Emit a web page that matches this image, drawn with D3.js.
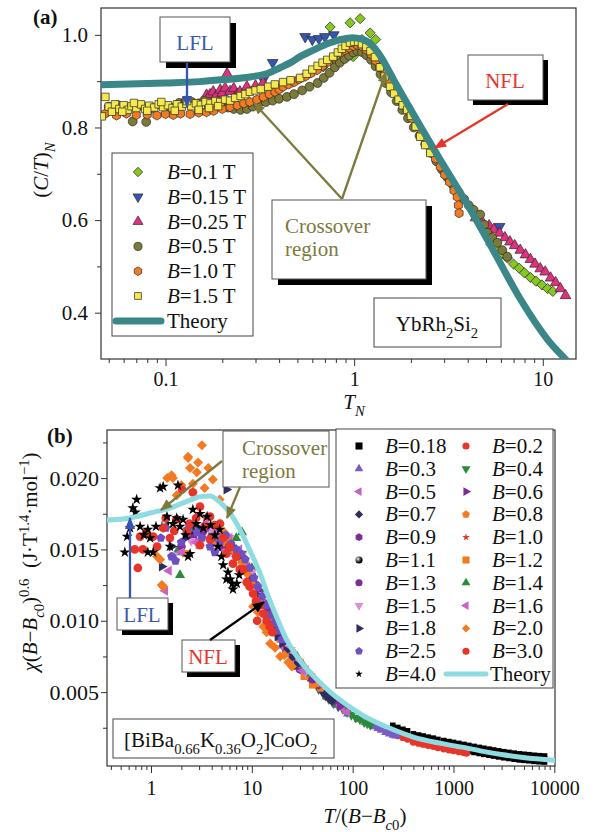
<!DOCTYPE html>
<html><head><meta charset="utf-8">
<script src="https://cdn.jsdelivr.net/npm/d3@7"></script>
<style>body{margin:0;background:#fff}svg{display:block}text{font-family:"Liberation Serif","Times New Roman",serif;fill:#111}</style>
</head><body><svg id="c" width="596" height="832"></svg>
<script>
// ---------------- Panel (a) data: [T_N, (C/T)_N] ----------------
const a01 = [[0.685,0.931],[0.746,1.017],[0.774,0.94],[0.843,0.961],[0.864,0.957],[0.952,1.026],[0.988,0.953],[1.076,1.035],[1.1,0.99],[1.216,1.004],[1.3,0.99],
 [5.3,0.548],[5.7,0.54],[6.1,0.528],[6.5,0.518],[7,0.505],[7.5,0.496],[8,0.486],[8.6,0.476],[9.2,0.468],[9.9,0.46],[10.6,0.452],[11.3,0.446]];
const a015 = [[0.33,0.903],[0.37,0.94],[0.55,0.996],[0.6,0.99],[0.65,0.992],[0.7,0.996],[0.78,1.0],[5.9,0.586]];
const a025 = [[0.165,0.87],[0.172,0.871],[0.179,0.877],[0.185,0.868],[0.195,0.881],[0.2,0.874],[0.207,0.885],[0.212,0.916],[0.22,0.878],[0.23,0.884],[0.24,0.872],[0.248,0.877],[0.27,0.888],[0.3,0.89],[0.329,0.896],
 [4.4,0.605],[4.8,0.595],[5.2,0.588],[5.5,0.58],[5.9,0.572],[6.3,0.562],[6.7,0.553],[7.1,0.545],[7.6,0.535],[8.1,0.525],[8.6,0.515],[9.1,0.505],[9.7,0.495],[10.3,0.488],[11,0.475],[11.7,0.465],[12.4,0.452],[13.2,0.437]];
const a05 = [[0.05,0.845],[0.056,0.848],[0.062,0.84],[0.067,0.813],[0.072,0.846],[0.079,0.812],[0.085,0.842],[0.095,0.848],[0.105,0.845],[0.118,0.853],[0.128,0.858],[0.138,0.855],[0.15,0.852],[0.16,0.858],[0.17,0.848],[0.185,0.845],[0.2,0.845],[0.215,0.843],[0.23,0.84],[0.25,0.838],[0.27,0.84],[0.29,0.845],[0.31,0.85],[0.34,0.855],[0.37,0.858],[0.4,0.862],[0.44,0.866],[0.48,0.872],[0.53,0.88],[0.58,0.888],[0.64,0.896],[0.69,0.907],[0.74,0.918],[0.79,0.93],[0.84,0.94],[0.89,0.948],[0.94,0.955],[0.99,0.962],[1.04,0.965],[1.1,0.963],[1.16,0.956],[1.23,0.946],[1.3,0.932],[1.38,0.915],[1.47,0.896],[1.57,0.876],[1.68,0.857],[1.8,0.838],[1.93,0.82],[2.07,0.8],[2.22,0.782],[2.38,0.764],[2.55,0.745],[2.73,0.727],[2.92,0.709],[3.12,0.692],[3.34,0.676],[3.58,0.66],[3.83,0.645],[4.05,0.632],[4.3,0.622],[4.66,0.612],[4.9,0.59],[5.08,0.573],[5.4,0.562],[5.74,0.551],[6.1,0.535],[6.48,0.521]];
const a10 = [[0.048,0.83],[0.055,0.826],[0.062,0.83],[0.07,0.827],[0.08,0.828],[0.09,0.826],[0.1,0.829],[0.11,0.827],[0.12,0.83],[0.135,0.829],[0.15,0.832],[0.165,0.833],[0.18,0.836],[0.2,0.84],[0.22,0.844],[0.24,0.848],[0.26,0.852],[0.28,0.855],[0.305,0.86],[0.33,0.866],[0.355,0.872],[0.38,0.877],[0.4,0.882],[0.42,0.888],[0.45,0.893],[0.48,0.898],[0.51,0.904],[0.55,0.91],[0.59,0.917],[0.636,0.924],[0.68,0.933],[0.73,0.942],[0.78,0.951],[0.843,0.961],[0.89,0.967],[0.94,0.972],[0.99,0.976],[1.04,0.978],[1.1,0.975],[1.16,0.968],[1.23,0.958],[1.3,0.944],[1.37,0.93],[1.45,0.915],[1.53,0.9],[1.62,0.884],[1.71,0.868],[1.81,0.852],[1.91,0.836],[2.02,0.82],[2.14,0.804],[2.27,0.788],[2.41,0.77],[2.55,0.751],[2.7,0.733],[2.86,0.715],[3.02,0.698],[3.2,0.682],[3.38,0.664],[3.52,0.65],[3.57,0.632],[3.6,0.615]];
const a15 = [[0.046,0.824],[0.048,0.866],[0.05,0.845],[0.052,0.834],[0.054,0.85],[0.057,0.84],[0.06,0.848],[0.063,0.838],[0.066,0.846],[0.07,0.842],[0.074,0.85],[0.078,0.84],[0.082,0.847],[0.087,0.843],[0.092,0.85],[0.097,0.844],[0.103,0.848],[0.109,0.842],[0.115,0.85],[0.122,0.845],[0.129,0.851],[0.137,0.846],[0.145,0.852],[0.154,0.849],[0.163,0.855],[0.173,0.852],[0.184,0.857],[0.195,0.855],[0.207,0.86],[0.22,0.858],[0.234,0.864],[0.25,0.868],[0.265,0.872],[0.28,0.877],[0.3,0.88],[0.32,0.883],[0.35,0.888],[0.38,0.893],[0.42,0.898],[0.46,0.902],[0.517,0.907],[0.56,0.916],[0.6,0.925],[0.64,0.933],[0.68,0.94],[0.72,0.946],[0.774,0.953],[0.82,0.962],[0.86,0.97],[0.9,0.976],[0.95,0.983],[1.0,0.985],[1.05,0.985],[1.1,0.98],[1.16,0.974],[1.22,0.965],[1.29,0.952],[1.37,0.93],[1.45,0.91],[1.55,0.888],[1.63,0.873],[1.72,0.86],[1.81,0.848],[1.91,0.838],[2.0,0.825],[2.12,0.802],[2.24,0.78],[2.38,0.762],[2.53,0.745],
 [0.059,0.834],[0.068,0.853],[0.08,0.836],[0.095,0.855],[0.112,0.836],[0.13,0.857],[0.15,0.838],[0.17,0.842],[0.19,0.846]];
const aTheoryT = [0.0455,0.1,0.152,0.2,0.281,0.35,0.405,0.46,0.517,0.6,0.746,0.85,0.976,1.1,1.216,1.374,1.61,1.91,2.24,2.86,3.97,5.46,7.59,10.6,13.5,15];
const aTheoryV = [0.892,0.896,0.899,0.903,0.909,0.917,0.929,0.94,0.953,0.966,0.983,0.99,0.994,0.991,0.981,0.955,0.905,0.852,0.803,0.73,0.635,0.535,0.43,0.342,0.295,0.275];
const aFields = ["0.1","0.15","0.25","0.5","1.0","1.5"];
const aYTicks = [0.4,0.6,0.8,1.0], aYLabels = ["0.4","0.6","0.8","1.0"], aYMinor = [0.5,0.7,0.9];
const aXTicks = [0.1,1,10], aXLabels = ["0.1","1","10"];
const aXMinor = [0.05,0.06,0.07,0.08,0.09,0.2,0.3,0.4,0.5,0.6,0.7,0.8,0.9,2,3,4,5,6,7,8,9];

// ---------------- Panel (b) data: [T/(B-Bc0), chi(B-Bc0)^0.6] ----------------
const b018 = [[250,0.00267],[280,0.00252],[315,0.00239],[350,0.00228],[400,0.00207],[450,0.00199],[500,0.00192],[560,0.00184],[630,0.00177],[700,0.00168],[800,0.0016],[900,0.00153],[1000,0.00147],[1130,0.0014],[1270,0.00133],[1420,0.00126],[1600,0.00119],[1800,0.00112],[2000,0.00106],[2250,0.001],[2500,0.00094],[2800,0.00088],[3150,0.00082],[3550,0.00077],[4000,0.00072],[4500,0.00067],[5000,0.00064],[5600,0.00061],[6300,0.00057],[7100,0.00054],[8000,0.00052],
 [1270,0.00091],[1420,0.00084],[1600,0.00077],[1800,0.0007],[2000,0.00064],[2250,0.00058],[2500,0.00052],[2800,0.00046],[3150,0.0004],[3550,0.00035],[4000,0.0003],[4500,0.00025],[5000,0.00022],[5600,0.00019],[6300,0.00015],[7100,0.00012],[8000,0.0001],
 [1500,0.00098],[2100,0.00081],[3000,0.00062],[4200,0.00048],[6000,0.00036],[8000,0.0003]];
const b02 = [[70,0.0043],[90,0.0037],[115,0.0032],[145,0.0028],[180,0.0025],[220,0.0022],[250,0.0021],[280,0.00195],[315,0.00182],[350,0.00171],[400,0.0015],[450,0.00142],[500,0.00135],[560,0.00127],[630,0.0012],[700,0.00111],[800,0.00103],[900,0.00096],[1000,0.0009],[1130,0.00083],[1270,0.00076],[1350,0.00073]];
const b03 = [[15,0.0103],[20,0.0088],[26,0.0075],[33,0.0065],[42,0.0056],[55,0.0047],[70,0.0041],[90,0.0035],[115,0.0031],[135,0.0029],[150,0.0028],[165,0.0026],[180,0.00248],[195,0.00236],[215,0.0022],[235,0.0021],[255,0.002],[270,0.00195]];
const b04 = [[8,0.0147],[12,0.012],[18,0.0092],[26,0.0074],[36,0.0061],[46,0.0052],[52,0.0048],[58,0.0045],[65,0.0042],[72,0.004],[80,0.0038],[88,0.0036],[97,0.0034],[107,0.0032],[118,0.0031],[130,0.0029],[140,0.0028],[150,0.0027]];
const b05 = [[5.5,0.0149],[7,0.0145],[9,0.0135],[11,0.0124],[13,0.0112],[16,0.0099],[19,0.0089],[23,0.0079],[28,0.0071],[34,0.0064],[41,0.0057],[50,0.0051],[60,0.0046],[68,0.0043],[78,0.0039],[88,0.0036]];
const b06 = [[5,0.0152],[8,0.0143],[10.5,0.0127],[13,0.0113],[17,0.0096],[21,0.0085],[26,0.0076],[32,0.0067],[40,0.0059],[48,0.0053],[57,0.0047],[66,0.0043],[75,0.004]];
const b07 = [[4,0.0155],[6,0.0151],[9,0.0136],[13,0.0113],[18,0.0093],[25,0.0078],[35,0.0064],[45,0.0055],[50,0.0051],[54,0.0048],[58,0.0046],[62,0.0044]];
const b08 = [[3.2,0.016],[4.2,0.0166],[5.5,0.0155],[7,0.0148],[9,0.0138],[11,0.0125],[13.5,0.0111],[16,0.0099],[19,0.0089],[23,0.008],[27,0.0074],[32,0.0068],[37,0.0063],[42,0.0058],[48,0.0053]];
const b09 = [[3,0.0162],[4.5,0.0158],[6.5,0.0149],[9,0.0137],[11,0.0125],[13.5,0.0112],[16.5,0.0098],[20,0.0088],[25,0.0078],[31,0.0069],[38,0.0061],[46,0.0055]];
const b10 = [[2.6,0.0165],[3.5,0.0172],[5,0.016],[7,0.015],[9.5,0.0134],[12,0.0118],[15,0.0104],[19,0.0091],[24,0.008],[30,0.007],[38,0.0062],[45,0.0056]];
const b11 = [[1.38,0.0168],[2.5,0.0163],[4,0.016],[6,0.0152],[9,0.0136],[13,0.0112],[19,0.0088],[27,0.0073],[37,0.0061]];
const b12 = [[2.2,0.0147],[3,0.0153],[4,0.0155],[6,0.015],[8,0.0142],[10,0.0128],[12,0.0116],[14,0.0104],[16.5,0.0095],[19,0.0087],[22,0.008],[26,0.0075],[30,0.0071],[34,0.0066],[38,0.0061],[43,0.0056],[27,0.0068],[33,0.0061],[40,0.0055]];
const b13 = [[2,0.0152],[2.6,0.0158],[3.3,0.0163],[4.5,0.0158],[6,0.0153],[8,0.0144],[10,0.0132],[12,0.012],[14.5,0.0107],[17,0.0097],[20,0.0088],[24,0.0079],[28,0.0072],[33,0.0066],[40,0.0059],[15,0.0099],[22,0.0079],[30,0.0066]];
const b14 = [[1.8,0.0148],[1.94,0.0132],[3,0.0155],[4.5,0.016],[7,0.0158],[8,0.0162],[10,0.0137],[13,0.0118],[16,0.0103],[20,0.009],[24,0.0081],[28,0.0075],[32,0.0069],[37,0.0063]];
const b15 = [[1.7,0.0146],[2.5,0.0156],[4,0.0163],[6,0.0158],[8,0.0146],[10,0.0134],[12.5,0.0118],[15,0.0104],[18,0.0093],[21,0.0085],[25,0.0077],[29,0.0071],[34,0.0064]];
const b16 = [[1.38,0.0121],[1.5,0.0135],[2,0.0148],[2.8,0.0155],[3.5,0.0168],[4.5,0.0162],[6,0.0158],[7.5,0.015],[9,0.0138],[11,0.0124],[13,0.0112],[15,0.0103],[17,0.0094],[19,0.0087],[22,0.008],[25,0.0075],[28,0.007],[32,0.0065],[12,0.0113],[16,0.0092],[20,0.0082],[26,0.0071]];
const b18 = [[1.28,0.0138],[1.6,0.0152],[2.2,0.0158],[3,0.0165],[4,0.0158],[5.6,0.0192],[6.5,0.0152],[8,0.0145],[10,0.013],[12,0.0117],[14,0.0104],[16,0.0096],[18,0.0089],[20,0.0084],[22,0.0079],[25,0.0074],[28,0.0069]];
const b20 = [[1.15,0.0145],[1.23,0.0143],[1.28,0.0125],[1.32,0.0124],[1.45,0.02],[1.6,0.0202],[1.65,0.02],[1.8,0.0188],[2.0,0.0195],[2.33,0.0214],[2.33,0.0215],[2.44,0.0207],[2.6,0.0196],[2.85,0.0204],[2.93,0.0211],[3.2,0.0223],[3.4,0.0193],[3.7,0.0207],[4.1,0.0199],[4.5,0.0154],[4.8,0.0185],[5.3,0.0162],[6,0.0155],[7,0.0147],[8,0.0141],[9,0.0133],[10.3,0.011],[11.5,0.0106],[13,0.0096],[14,0.0092],[15.2,0.0084],[17,0.0081],[19.1,0.0075],[21,0.0076],[23,0.0071],[25,0.0068]];
const b25 = [[1.25,0.0158],[1.4,0.0165],[1.6,0.0145],[1.75,0.0142],[2.0,0.0155],[2.3,0.0164],[2.6,0.0168],[2.85,0.0162],[3.2,0.0158],[3.5,0.0165],[3.85,0.0152],[4.3,0.0148],[4.8,0.0155],[5.5,0.016],[6.2,0.0154],[7.0,0.015],[7.8,0.0147],[8.6,0.0143],[9.5,0.0137],[10.5,0.013],[11.5,0.0124],[12.6,0.0117],[13.8,0.0111],[15,0.0104],[16.5,0.0098],[18,0.0093],[20,0.0087]];
const b30 = [[0.69,0.015],[0.74,0.0137],[0.78,0.0159],[0.83,0.015],[0.9,0.0162],[1.05,0.0159],[1.15,0.0152],[1.32,0.0165],[1.4,0.0172],[1.54,0.0158],[1.7,0.0163],[1.8,0.0171],[2.03,0.0192],[2.27,0.0162],[2.4,0.0168],[2.6,0.019],[2.8,0.0172],[3.06,0.018],[3.06,0.0153],[3.4,0.0166],[3.85,0.0173],[3.85,0.0157],[4.3,0.0167],[4.84,0.0168],[5.2,0.0158],[5.6,0.0147],[6.0,0.0152],[6.5,0.014],[7.0,0.0145],[7.6,0.0136],[8.2,0.0136],[8.9,0.0127],[9.5,0.0124],[10.3,0.0119],[11,0.0114],[11.3,0.01],[12,0.0111],[13,0.0105],[14,0.01],[15,0.0096],[16,0.0092]];
const b40 = [[0.55,0.0148],[0.58,0.0159],[0.62,0.0165],[0.66,0.0179],[0.7,0.0176],[0.72,0.0185],[0.78,0.0166],[0.85,0.016],[0.93,0.0164],[0.98,0.0158],[0.93,0.0148],[1.05,0.0148],[1.12,0.0166],[1.23,0.0193],[1.32,0.0194],[1.44,0.0173],[1.54,0.0152],[1.65,0.0168],[1.8,0.0172],[1.85,0.0195],[1.94,0.0166],[2.08,0.0171],[2.2,0.016],[2.33,0.0145],[2.44,0.0147],[2.6,0.0178],[2.8,0.0168],[3.06,0.0175],[3.3,0.0165],[3.6,0.0173],[3.9,0.0167],[4.3,0.016],[4.6,0.0152],[4.8,0.0164],[5.0,0.0145],[5.2,0.0139],[5.6,0.0129],[5.8,0.0134],[6.1,0.0129],[6.4,0.0126],[6.5,0.0122],[7.1,0.0126],[7.5,0.0132]];
const bTheoryT = [0.366,0.62,0.98,1.54,2.44,3.06,3.85,4.84,6.08,7.64,9.6,12.1,14.2,18,22.4,30,40,60,88,139,219,400,735,1370,1850,3000,4900,10160];
const bTheoryV = [0.01706,0.0172,0.01755,0.0179,0.01846,0.0187,0.01875,0.0183,0.01755,0.01637,0.0149,0.0133,0.0119,0.0101,0.0086,0.0072,0.0062,0.005,0.0041,0.0032,0.00255,0.00185,0.00142,0.00107,0.00088,0.00062,0.00042,0.00022];
const bFields = ["0.18","0.2","0.3","0.4","0.5","0.6","0.7","0.8","0.9","1.0","1.1","1.2","1.3","1.4","1.5","1.6","1.8","2.0","2.5","3.0","4.0"];
const bYTicks = [0.005,0.010,0.015,0.020], bYLabels = ["0.005","0.010","0.015","0.020"], bYMinor = [0.0025,0.0075,0.0125,0.0175,0.0225];
const bXTicks = [1,10,100,1000,10000], bXLabels = ["1","10","100","1000","10000"];
const bXMinor = [0.4,0.5,0.6,0.7,0.8,0.9,2,3,4,5,6,7,8,9,20,30,40,50,60,70,80,90,200,300,400,500,600,700,800,900,2000,3000,4000,5000,6000,7000,8000,9000];

// ---------------- styles ----------------
const aStyle = [
 {data:a01, shape:"diamond", color:"#86c81e", size:52},
 {data:a015, shape:"tdown", color:"#3556b0", size:50},
 {data:a025, shape:"triangle", color:"#e0307e", size:50},
 {data:a05, shape:"circle", color:"#7b7a38", size:62},
 {data:a10, shape:"hexagon", color:"#f47c20", size:56},
 {data:a15, shape:"square", color:"#f5e94c", size:56}
];
const bStyle = [
 {data:b018, shape:"square", color:"#000", size:32},
 {data:b02, shape:"circle", color:"#e8352a", size:42},
 {data:b03, shape:"triangle", color:"#7a5cc6"},
 {data:b04, shape:"tdown", color:"#2d8a3c"},
 {data:b05, shape:"tleft", color:"#c862c8"},
 {data:b06, shape:"tright", color:"#7b2d96"},
 {data:b07, shape:"diamond", color:"#2e2d5c"},
 {data:b08, shape:"pentagon", color:"#f47a22"},
 {data:b09, shape:"hexagon", color:"#7b2d96"},
 {data:b10, shape:"star", color:"#e8352a"},
 {data:b11, shape:"sphere", color:"url(#sph)"},
 {data:b12, shape:"square", color:"#f47a22"},
 {data:b13, shape:"circle", color:"#7b2d96"},
 {data:b14, shape:"triangle", color:"#2d8a3c"},
 {data:b15, shape:"tdown", color:"#dc8edc"},
 {data:b16, shape:"tleft", color:"#c862c8"},
 {data:b18, shape:"tright", color:"#2e2d5c"},
 {data:b20, shape:"diamond", color:"#f47a22"},
 {data:b25, shape:"pentagon", color:"#6e50c2"},
 {data:b30, shape:"circle", color:"#e8352a"},
 {data:b40, shape:"star", color:"#000"}
];
const bSize = {square:52, circle:60, triangle:44, tdown:44, tleft:44, tright:44, diamond:50, pentagon:54, hexagon:54, star:38, sphere:54};
const bLegSize = {square:50, circle:40, triangle:34, tdown:34, tleft:34, tright:34, diamond:34, pentagon:40, hexagon:40, star:18, sphere:40};

function polygonSymbol(n){ return {draw(ctx,size){ const r=Math.sqrt(2*size/(n*Math.sin(2*Math.PI/n))); for(let i=0;i<n;i++){const a=i*2*Math.PI/n; const px=r*Math.sin(a), py=-r*Math.cos(a); if(i) ctx.lineTo(px,py); else ctx.moveTo(px,py);} ctx.closePath(); }}; }
const symTypes = {square:d3.symbolSquare, circle:d3.symbolCircle, sphere:d3.symbolCircle, triangle:d3.symbolTriangle, tdown:d3.symbolTriangle, tleft:d3.symbolTriangle, tright:d3.symbolTriangle, diamond:d3.symbolSquare, star:d3.symbolStar, pentagon:polygonSymbol(5), hexagon:polygonSymbol(6)};
const symRot = {tdown:180, tleft:-90, tright:90, diamond:45};
const shapePath = (shape,size) => d3.symbol(symTypes[shape], size)();

function rich(sel, parts, fs){
  let shift=0;
  parts.forEach(p=>{
    const target = p.sub ? fs*0.32 : p.sup ? -fs*0.4 : 0;
    const ts = sel.append("tspan").text(p.t).attr("dy", target-shift).attr("font-size", (p.sub||p.sup)? fs*0.7 : fs);
    if(p.i) ts.attr("font-style","italic");
    shift = target;
  });
  return sel;
}

const svg = d3.select("#c");
svg.append("rect").attr("width",596).attr("height",832).attr("fill","#fff");
const defs = svg.append("defs");
const grad = defs.append("radialGradient").attr("id","sph").attr("cx","35%").attr("cy","35%").attr("r","65%");
grad.append("stop").attr("offset","0%").attr("stop-color","#fff");
grad.append("stop").attr("offset","35%").attr("stop-color","#777");
grad.append("stop").attr("offset","85%").attr("stop-color","#000");
function marker(id,color){ defs.append("marker").attr("id",id).attr("viewBox","0 0 12 10").attr("refX",11).attr("refY",5).attr("markerWidth",13).attr("markerHeight",10).attr("markerUnits","userSpaceOnUse").attr("orient","auto").append("path").attr("d","M0,0L12,5L0,10z").attr("fill",color); }
marker("mBlue","#3556b0"); marker("mRed","#e8352a"); marker("mOlive","#7d7a3e"); marker("mBlack","#000");
defs.append("clipPath").attr("id","clipA").append("rect").attr("x",101).attr("y",8).attr("width",475).attr("height",351);
defs.append("clipPath").attr("id","clipB").append("rect").attr("x",107).attr("y",430).attr("width",448).attr("height",336);

// ---------------- Panel (a) ----------------
const xA = d3.scaleLog().domain([0.0455,15]).range([101,576]);
const yA = d3.scaleLinear().domain([0.30,1.058]).range([359,8]);
const gA = svg.append("g");
gA.append("rect").attr("x",101).attr("y",8).attr("width",475).attr("height",351).attr("fill","#fff").attr("stroke","#333").attr("stroke-width",1.2);

function styleAxis(g, fs){ g.attr("font-family","Liberation Serif, Times New Roman, serif").attr("font-size",fs); g.select(".domain").remove(); g.selectAll("line").attr("stroke","#333").attr("stroke-width",1); g.selectAll("text").attr("fill","#111"); }
gA.append("g").attr("transform","translate(101,0)").call(d3.axisLeft(yA).tickValues(aYTicks).tickFormat((d,i)=>aYLabels[i]).tickSize(6).tickPadding(7)).call(g=>styleAxis(g,21));
gA.append("g").attr("transform","translate(101,0)").call(d3.axisLeft(yA).tickValues(aYMinor).tickFormat("").tickSize(4)).call(g=>styleAxis(g,21));
gA.append("g").attr("transform","translate(0,359)").call(d3.axisBottom(xA).tickValues(aXTicks).tickFormat((d,i)=>aXLabels[i]).tickSize(7).tickPadding(6)).call(g=>styleAxis(g,20));
gA.append("g").attr("transform","translate(0,359)").call(d3.axisBottom(xA).tickValues(aXMinor).tickFormat("").tickSize(4)).call(g=>styleAxis(g,20));

const plotA = gA.append("g").attr("clip-path","url(#clipA)");
aStyle.forEach(s=>{
  plotA.append("g").selectAll("path").data(s.data).join("path")
   .attr("d", shapePath(s.shape,s.size))
   .attr("transform", d=>`translate(${xA(d[0])},${yA(d[1])}) rotate(${symRot[s.shape]||0})`)
   .attr("fill", s.color).attr("stroke","#2a2a2a").attr("stroke-width",0.7);
});
const lineA = d3.line().x((d,i)=>xA(aTheoryT[i])).y(d=>yA(d)).curve(d3.curveMonotoneX);
plotA.append("path").attr("d", lineA(aTheoryV)).attr("fill","none").attr("stroke","#3b8787").attr("stroke-width",7).attr("stroke-linecap","round");

// annotations (a)
function shadowBox(g,x,y,w,h,off){ if(off) g.append("rect").attr("x",x+off).attr("y",y+off).attr("width",w).attr("height",h).attr("fill","#000"); g.append("rect").attr("x",x).attr("y",y).attr("width",w).attr("height",h).attr("fill","#fff").attr("stroke","#555").attr("stroke-width",1); }
function arrow(g,x1,y1,x2,y2,color,m){ g.append("line").attr("x1",x1).attr("y1",y1).attr("x2",x2).attr("y2",y2).attr("stroke",color).attr("stroke-width",2.3).attr("marker-end",`url(#${m})`); }
shadowBox(gA,160,17,70,45,6);
gA.append("text").attr("x",195).attr("y",50).attr("text-anchor","middle").attr("font-size",21).style("fill","#3d5aa8").text("LFL");
arrow(gA,187,63,187,107,"#3556b0","mBlue");
shadowBox(gA,468,55,75,45,5);
gA.append("text").attr("x",505).attr("y",88).attr("text-anchor","middle").attr("font-size",21).style("fill","#e8352a").text("NFL");
arrow(gA,508,104,435,148,"#e8352a","mRed");
shadowBox(gA,272,200,154,79,6);
gA.append("text").attr("x",285).attr("y",233).attr("font-size",21).style("fill","#7d7a3e").text("Crossover");
gA.append("text").attr("x",285).attr("y",256).attr("font-size",21).style("fill","#7d7a3e").text("region");
arrow(gA,342,199,254,103,"#7d7a3e","mOlive");
arrow(gA,342,199,386,72,"#7d7a3e","mOlive");
gA.append("rect").attr("x",374).attr("y",298).attr("width",127).attr("height",49).attr("fill","#fff").attr("stroke","#444");
rich(gA.append("text").attr("x",437).attr("y",331).attr("text-anchor","middle"), [{t:"YbRh"},{t:"2",sub:true},{t:"Si"},{t:"2",sub:true}], 21);

// legend (a)
gA.append("rect").attr("x",112).attr("y",153).attr("width",141).attr("height",183).attr("fill","#fff").attr("stroke","#444");
aStyle.forEach((s,i)=>{
  const cy = 172 + i*24.8;
  gA.append("path").attr("d", shapePath(s.shape,s.size*0.85)).attr("transform",`translate(138,${cy}) rotate(${symRot[s.shape]||0})`).attr("fill",s.color).attr("stroke","#2a2a2a").attr("stroke-width",0.7);
  rich(gA.append("text").attr("x",167).attr("y",cy+7), [{t:"B",i:true},{t:"="+aFields[i]+" T"}], 21);
});
gA.append("line").attr("x1",116).attr("x2",161).attr("y1",321).attr("y2",321).attr("stroke","#3b8787").attr("stroke-width",7).attr("stroke-linecap","round");
gA.append("text").attr("x",167).attr("y",328).attr("font-size",21).text("Theory");

// titles (a)
gA.append("text").attr("x",33).attr("y",24).attr("font-size",21).attr("font-weight","bold").text("(a)");
rich(gA.append("text").attr("transform","translate(48,170) rotate(-90)").attr("text-anchor","middle"), [{t:"("},{t:"C",i:true},{t:"/"},{t:"T",i:true},{t:")"},{t:"N",i:true,sub:true}], 21);
rich(gA.append("text").attr("x",354).attr("y",409).attr("text-anchor","middle"), [{t:"T",i:true},{t:"N",i:true,sub:true}], 21);

// ---------------- Panel (b) ----------------
const xB = d3.scaleLog().domain([0.366,10160]).range([107,555]);
const yB = d3.scaleLinear().domain([-0.00018,0.02337]).range([766,430]);
const gB = svg.append("g");
gB.append("rect").attr("x",107).attr("y",430).attr("width",448).attr("height",336).attr("fill","#fff").attr("stroke","#333").attr("stroke-width",1.2);
gB.append("g").attr("transform","translate(107,0)").call(d3.axisLeft(yB).tickValues(bYTicks).tickFormat((d,i)=>bYLabels[i]).tickSize(6).tickPadding(2)).call(g=>styleAxis(g,22));
gB.append("g").attr("transform","translate(107,0)").call(d3.axisLeft(yB).tickValues(bYMinor).tickFormat("").tickSize(4)).call(g=>styleAxis(g,22));
gB.append("g").attr("transform","translate(0,766)").call(d3.axisBottom(xB).tickValues(bXTicks).tickFormat((d,i)=>bXLabels[i]).tickSize(7).tickPadding(8)).call(g=>styleAxis(g,20));
gB.append("g").attr("transform","translate(0,766)").call(d3.axisBottom(xB).tickValues(bXMinor).tickFormat("").tickSize(4)).call(g=>styleAxis(g,20));

const plotB = gB.append("g").attr("clip-path","url(#clipB)");
bStyle.forEach(s=>{
  plotB.append("g").selectAll("path").data(s.data).join("path")
   .attr("d", shapePath(s.shape, s.size || bSize[s.shape]))
   .attr("transform", d=>`translate(${xB(d[0])},${yB(d[1])}) rotate(${symRot[s.shape]||0})`)
   .attr("fill", s.color);
});
const lineB = d3.line().x((d,i)=>xB(bTheoryT[i])).y(d=>yB(d)).curve(d3.curveMonotoneX);
plotB.append("path").attr("d", lineB(bTheoryV)).attr("fill","none").attr("stroke","#8edce2").attr("stroke-width",5).attr("stroke-linecap","round");

// annotations (b)
shadowBox(gB,223,431,106,56,0);
gB.append("text").attr("x",242).attr("y",455).attr("font-size",21).style("fill","#7d7a3e").text("Crossover");
gB.append("text").attr("x",242).attr("y",478).attr("font-size",21).style("fill","#7d7a3e").text("region");
arrow(gB,222,461,161,510,"#7d7a3e","mOlive");
arrow(gB,240,487,227,518,"#7d7a3e","mOlive");
shadowBox(gB,117,598,51,32,5);
gB.append("text").attr("x",142).attr("y",622).attr("text-anchor","middle").attr("font-size",21).style("fill","#3d5aa8").text("LFL");
arrow(gB,130,598,130,518,"#3556b0","mBlue");
shadowBox(gB,182,640,53,32,5);
gB.append("text").attr("x",208).attr("y",664).attr("text-anchor","middle").attr("font-size",21).style("fill","#e8352a").text("NFL");
arrow(gB,210,640,264,602,"#000","mBlack");
gB.append("rect").attr("x",113).attr("y",719).attr("width",221).attr("height",39).attr("fill","#fff").attr("stroke","#444");
rich(gB.append("text").attr("x",124).attr("y",747), [{t:"[BiBa"},{t:"0.66",sub:true},{t:"K"},{t:"0.36",sub:true},{t:"O"},{t:"2",sub:true},{t:"]CoO"},{t:"2",sub:true}], 21);

// legend (b)
gB.append("rect").attr("x",336).attr("y",429).attr("width",217).attr("height",259).attr("fill","#fff").attr("stroke","#444");
bStyle.forEach((s,i)=>{
  const row = Math.floor(i/2), col = i%2;
  const cy = 446 + row*22.8;
  const mx = col ? 466 : 359, tx = col ? 492 : 385;
  gB.append("path").attr("d", shapePath(s.shape,bLegSize[s.shape])).attr("transform",`translate(${mx},${cy}) rotate(${symRot[s.shape]||0})`).attr("fill",s.color);
  rich(gB.append("text").attr("x",tx).attr("y",cy+7), [{t:"B",i:true},{t:"="+bFields[i]}], 21);
});
gB.append("line").attr("x1",446).attr("x2",486).attr("y1",674).attr("y2",674).attr("stroke","#8edce2").attr("stroke-width",5).attr("stroke-linecap","round");
gB.append("text").attr("x",490).attr("y",681).attr("font-size",21).text("Theory");

// titles (b)
gB.append("text").attr("x",47).attr("y",443).attr("font-size",21).attr("font-weight","bold").text("(b)");
rich(gB.append("text").attr("transform","translate(37,562) rotate(-90)").attr("text-anchor","middle"),
 [{t:"χ",i:true},{t:"("},{t:"B",i:true},{t:"−"},{t:"B",i:true},{t:"c",i:true,sub:true},{t:"0",sub:true},{t:")"},{t:"0.6",sup:true},{t:"\u00a0\u00a0(J·T"},{t:"1.4",sup:true},{t:"·mol"},{t:"−1",sup:true},{t:")"}], 21);
rich(gB.append("text").attr("x",365).attr("y",823).attr("text-anchor","middle"),
 [{t:"T",i:true},{t:"/("},{t:"B",i:true},{t:"−"},{t:"B",i:true},{t:"c",i:true,sub:true},{t:"0",sub:true},{t:")"}], 21);
</script></body></html>
